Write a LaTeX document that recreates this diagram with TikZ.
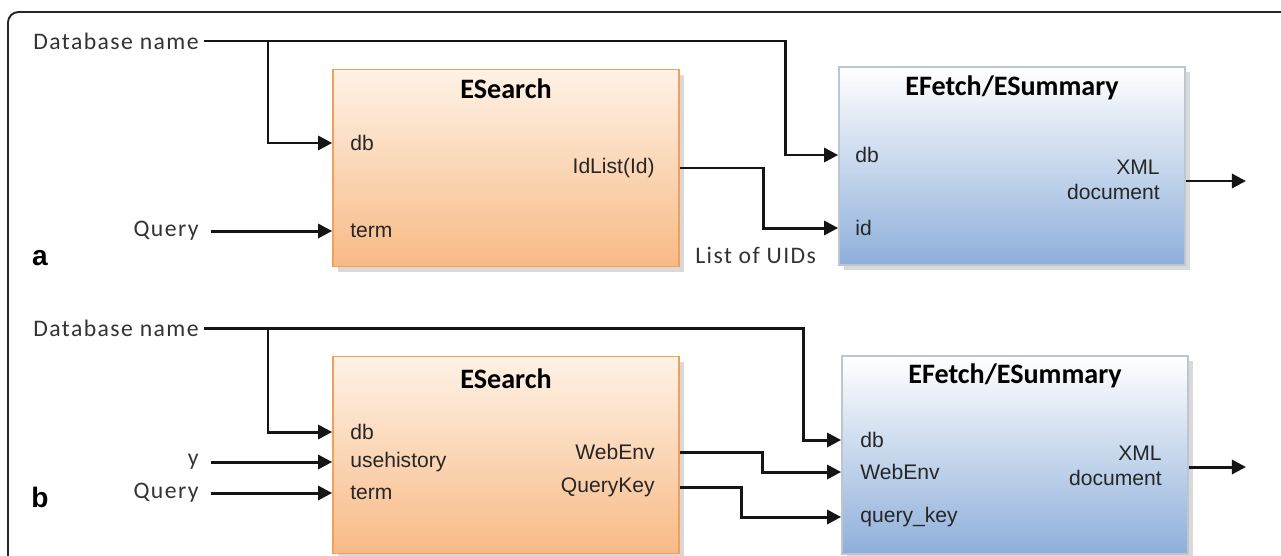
\documentclass[tikz,border=0pt]{standalone}
\usepackage{fontspec}
\setmainfont{Liberation Sans}
\newfontfamily\calfont[LetterSpace=6]{Carlito}
\newfontfamily\titlefont{Carlito}
\usetikzlibrary{calc, positioning, arrows.meta, shadows}

\definecolor{orangetop}{HTML}{FEF2E6}
\definecolor{orangebot}{HTML}{F8BA86}
\definecolor{orangeline}{HTML}{F0A05A}
\definecolor{bluetop}{HTML}{FFFFFF}
\definecolor{bluebot}{HTML}{8EAFDA}
\definecolor{blueline}{HTML}{BCC6D2}
\definecolor{wirecol}{HTML}{151515}
\definecolor{labelcol}{HTML}{333333}

\tikzset{
  searchbox/.style={draw=orangeline, line width=1pt, top color=orangetop, bottom color=orangebot,
    minimum width=6.92cm, minimum height=3.94cm,
    drop shadow={shadow xshift=3pt, shadow yshift=-3pt, opacity=0.3}},
  fetchbox/.style={draw=blueline, line width=1pt, top color=bluetop, bottom color=bluebot,
    minimum width=6.92cm, minimum height=3.96cm,
    drop shadow={shadow xshift=3pt, shadow yshift=-3pt, opacity=0.3}},
  boxtitle/.style={font=\titlefont\bfseries\fontsize{16}{19}\selectfont, inner sep=0pt},
  port/.style={font=\fontsize{12}{14.5}\selectfont, text=black!85, inner sep=0pt},
  outer/.style={font=\calfont\fontsize{13.5}{16}\selectfont, text=labelcol, inner sep=0pt},
  panel/.style={font=\bfseries\fontsize{16}{18}\selectfont, inner sep=0pt},
  wire/.style={draw=wirecol, line width=1.7pt},
}

\begin{document}
\begin{tikzpicture}[x=0.02cm, y=-0.02cm, >={Triangle[length=8pt, width=8pt]}]
  \useasboundingbox (0,0) rectangle (1281,555);
  \clip (0,0) rectangle (1281,555);
  \draw [line width=1.1pt, draw=black!85, rounded corners=6pt] (8,12) rectangle (1330,620);

  \node [searchbox] (esA) at (506,168) {};
  \node [fetchbox] (efA) at (1012,166) {};
  \node [boxtitle] at ($(esA.north)+(0,20)$) {ESearch};
  \node [boxtitle] at ($(efA.north)+(0,22)$) {EFetch/ESummary};
  \node [port, anchor=west] (edbA) at (350,143) {db};
  \node [port, anchor=west] (etermA) at (350,231) {term};
  \node [port, anchor=east] (eidsA) at (655,168) {IdList(Id)};
  \node [port, anchor=west] (fdbA) at (855,155) {db};
  \node [port, anchor=west] (fidA) at (855,228) {id};
  \node [port, anchor=east, align=right] (fxmlA) at (1160,180) {XML\\document};
  \node [outer, anchor=east] (dbnameA) at (199,41) {Database name};
  \node [outer, anchor=east] (queryA) at (199,231) {Query};
  \node [outer, anchor=west] (uidsA) at (695,255) {List of UIDs};
  \node [panel] (labA) at (40,258) {a};
  \coordinate (splitA) at (268,41);
  \coordinate (bendA) at (785,0);
  \coordinate (jogA) at (763,0);
  \coordinate (outA) at (1246,181);
  \draw [wire, ->] ([xshift=3pt]dbnameA.east) -| (bendA |- fdbA) -- (efA.west |- fdbA);
  \draw [wire, ->] (splitA) |- (esA.west |- edbA);
  \draw [wire, ->] ([xshift=7pt]queryA.east) -- (esA.west |- queryA);
  \draw [wire, ->] (esA.east |- eidsA) -| (jogA |- fidA) -- (efA.west |- fidA);
  \draw [wire, ->] (efA.east |- outA) -- (outA);

  \node [searchbox] (esB) at (506,455) {};
  \node [fetchbox] (efB) at (1015,455) {};
  \node [boxtitle] at ($(esB.north)+(0,23)$) {ESearch};
  \node [boxtitle] at ($(efB.north)+(0,21)$) {EFetch/ESummary};
  \node [port, anchor=west] (edbB) at (350,432) {db};
  \node [port, anchor=west] (eusehB) at (350,462) {usehistory};
  \node [port, anchor=west] (etermB) at (350,493) {term};
  \node [port, anchor=east] (ewebB) at (655,452) {WebEnv};
  \node [port, anchor=east] (ekeyB) at (655,487) {QueryKey};
  \node [port, anchor=west] (fdbB) at (860,440) {db};
  \node [port, anchor=west] (fwebB) at (860,472) {WebEnv};
  \node [port, anchor=west] (fkeyB) at (860,517) {query\_key};
  \node [port, anchor=east, align=right] (fxmlB) at (1162,466) {XML\\document};
  \node [outer, anchor=east] (dbnameB) at (199,328) {Database name};
  \node [outer, anchor=east] (yB) at (199,462) {y};
  \node [outer, anchor=east] (queryB) at (199,493) {Query};
  \node [panel] (labB) at (40,497) {b};
  \coordinate (splitB) at (268,328);
  \coordinate (bendB) at (803,0);
  \coordinate (jogwB) at (762,0);
  \coordinate (jogkB) at (741,0);
  \coordinate (outB) at (1246,467);
  \draw [wire, ->] ([xshift=3pt]dbnameB.east) -| (bendB |- fdbB) -- (efB.west |- fdbB);
  \draw [wire, ->] (splitB) |- (esB.west |- edbB);
  \draw [wire, ->] ([xshift=7pt]yB.east) -- (esB.west |- yB);
  \draw [wire, ->] ([xshift=7pt]queryB.east) -- (esB.west |- queryB);
  \draw [wire, ->] (esB.east |- ewebB) -| (jogwB |- fwebB) -- (efB.west |- fwebB);
  \draw [wire, ->] (esB.east |- ekeyB) -| (jogkB |- fkeyB) -- (efB.west |- fkeyB);
  \draw [wire, ->] (efB.east |- outB) -- (outB);
\end{tikzpicture}
\end{document}
